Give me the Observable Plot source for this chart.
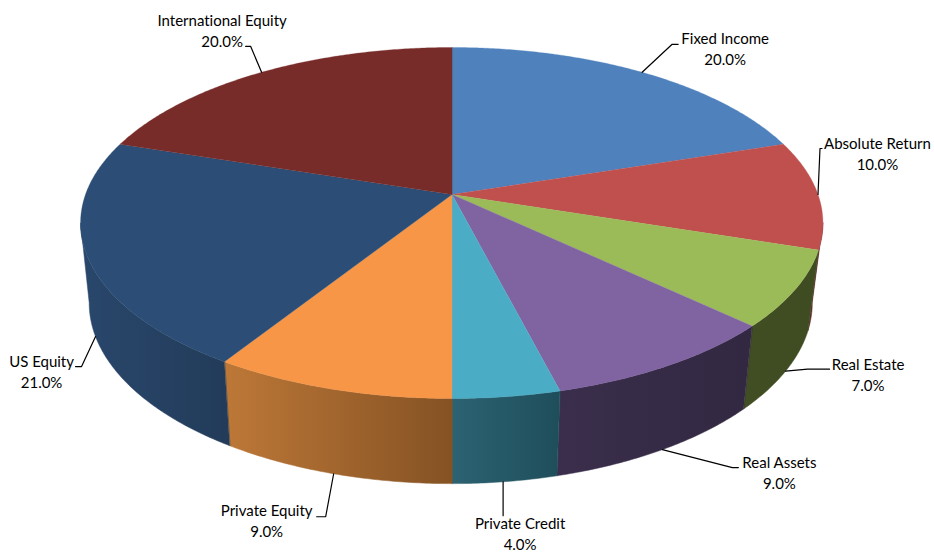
<!DOCTYPE html>
<html>
<head>
<meta charset="utf-8">
<script src="https://cdn.jsdelivr.net/npm/d3@7"></script>
<script src="https://cdn.jsdelivr.net/npm/@observablehq/plot@0.6"></script>
<style>html,body{margin:0;padding:0;background:#fff}svg{display:block}text{font-variant-ligatures:none}</style>
</head>
<body>
<div id="chart"></div>
<script>
// Data, clockwise from 12 o'clock
const names = ["Fixed Income","Absolute Return","Real Estate","Real Assets","Private Credit","Private Equity","US Equity","International Equity"];
const shares = [20,10,7,9,4,9,21,20];

// Style
const topColors = ["#4f81bd","#c0504d","#9bbb59","#8064a2","#4bacc6","#f79646","#2c4d75","#772c2a"];
const sideLeft  = ["#2f4d71","#5e2725","#414e23","#3a2e4c","#2c6272","#bd7837","#29476c","#4a1b1a"];
const sideRight = ["#2f4d71","#5e2725","#3f4b21","#322841","#1f4e5b","#855224","#223b59","#4a1b1a"];

// Layout of the labels, relative to the leader's anchor on the pie
const leaderFace = ["top","top","bottom","bottom","bottom","bottom","bottom","top"];
const startOffset = [[0,0],[0,0],[0,0],[0,0],[-2,0],[0,0],[0,0],[0,0]];
const kneeOffset = [[30,-28],[2,-46],[22,-2],[70,18],[-2,34],[-8,43],[-14,30],[-11,-26]];
const endOffset  = [[36,-28],[4,-46],[44,-2],[76,18],[-2,34],[-17,43],[-20,30],[-16,-26]];
const textOffset = [[83,-24.5],[59.5,-41.5],[82.5,3],[117,22.5],[15,51],[-67,46],[-54,34.5],[-39.5,-42.5]];

// Projection of the disc (perspective view)
const cx = 451.5, topCy = 194, botCy = 273, k = 0.1624;
const topARight = 366, topALeft = 366.5, topB = 170.9, botARight = 355.5, botALeft = 358, botB = 176;
const project = (deg, face) => {
  const t = deg * Math.PI / 180, X = Math.sin(t), Y = Math.cos(t), d = 1 + k * Y;
  if (face === "top") return [cx + (X > 0 ? topARight : topALeft) * X / d, topCy - topB * Y / d];
  return [cx + (X > 0 ? botARight : botALeft) * X / d, botCy - botB * Y / d];
};

// Angles from the shares
const total = d3.sum(shares);
const ends = d3.cumsum(shares).map(v => v / total * 360);
const starts = ends.map((e, i) => i ? ends[i - 1] : 0);
const silhouette = [99.3, 260.7];

const arc = (a0, a1, step) => {
  const out = [];
  for (let a = a0; a < a1; a += step) out.push(a);
  out.push(a1);
  return out;
};

// Side walls, one closed outline per visible slice, with a gradient fill
const sideRows = [];
names.forEach((name, i) => {
  const a0 = Math.max(starts[i], silhouette[0]), a1 = Math.min(ends[i], silhouette[1]);
  if (a1 <= a0) return;
  const c = `url(#side${i})`;
  const angles = arc(a0, a1, 0.5);
  angles.forEach(a => { const [x, y] = project(a, "top"); sideRows.push({x, y, id: name, c}); });
  angles.slice().reverse().forEach(a => { const [x, y] = project(a, "bottom"); sideRows.push({x, y, id: name, c}); });
});

// Top face slices
const topRows = [];
names.forEach((name, i) => {
  topRows.push({x: cx, y: topCy, id: name, c: topColors[i]});
  arc(starts[i], ends[i], 0.5).forEach(a => {
    const [x, y] = project(a, "top");
    topRows.push({x, y, id: name, c: topColors[i]});
  });
});

// Leaders and labels
const leaderRows = [], labelRows = [];
names.forEach((name, i) => {
  const [x, y] = project((starts[i] + ends[i]) / 2, leaderFace[i]);
  leaderRows.push({x: x + startOffset[i][0], y: y + startOffset[i][1], id: name});
  leaderRows.push({x: x + kneeOffset[i][0], y: y + kneeOffset[i][1], id: name});
  leaderRows.push({x: x + endOffset[i][0], y: y + endOffset[i][1], id: name});
  labelRows.push({x: x + textOffset[i][0], y: y + textOffset[i][1], text: `${name}\n${shares[i].toFixed(1)}%`});
});

const chart = Plot.plot({
  width: 934, height: 552,
  margin: 0,
  style: {background: "#fff", overflow: "visible"},
  x: {domain: [0, 934], range: [0, 934], axis: null},
  y: {domain: [0, 552], range: [0, 552], axis: null},
  color: {type: "identity"},
  marks: [
    Plot.line(sideRows, {x: "x", y: "y", z: "id", fill: "c", stroke: "c", strokeWidth: 0.5, curve: "linear-closed"}),
    Plot.line(topRows, {x: "x", y: "y", z: "id", fill: "c", stroke: "c", strokeWidth: 0.3, curve: "linear-closed"}),
    Plot.line(leaderRows, {x: "x", y: "y", z: "id", stroke: "#000", strokeWidth: 1.2, curve: "linear"}),
    Plot.text(labelRows, {x: "x", y: "y", text: "text", fill: "#000", fontSize: 15, fontFamily: "Lato", lineHeight: 1.4, textAnchor: "middle"})
  ]
});

// Gradient definitions for the side walls
const defs = d3.select(chart).insert("defs", ":first-child");
names.forEach((name, i) => {
  const g = defs.append("linearGradient").attr("id", `side${i}`).attr("x1", 0).attr("x2", 1).attr("y1", 0).attr("y2", 0);
  g.append("stop").attr("offset", 0).attr("stop-color", sideLeft[i]);
  g.append("stop").attr("offset", 1).attr("stop-color", sideRight[i]);
});

document.getElementById("chart").append(chart);
</script>
</body>
</html>
